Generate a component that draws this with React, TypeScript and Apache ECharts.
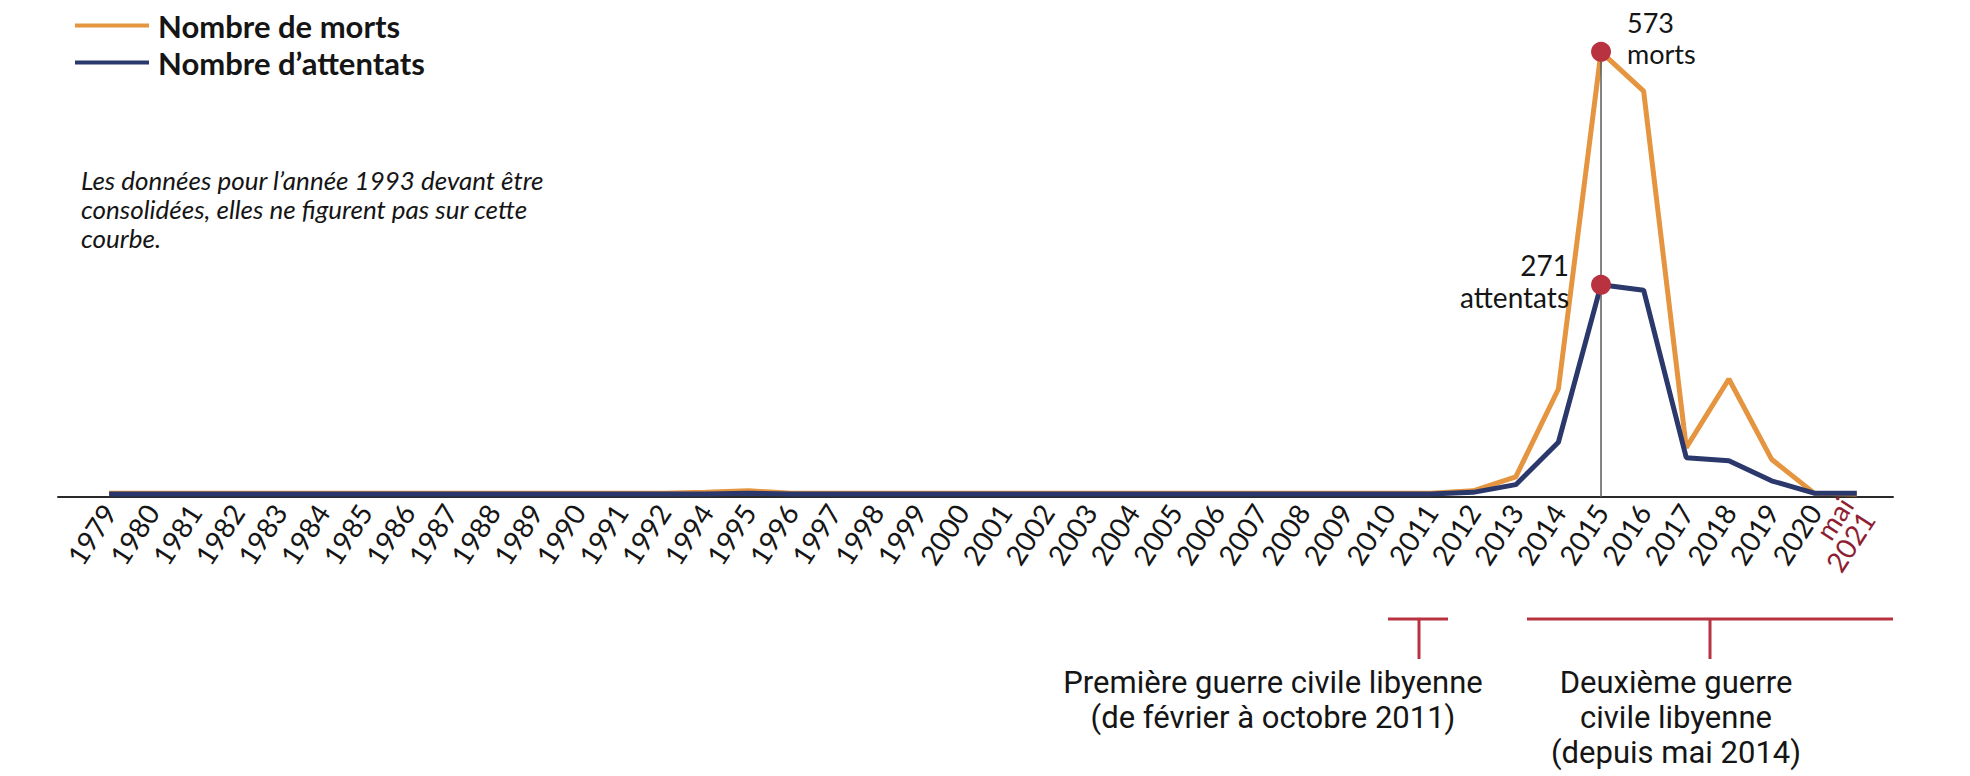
import React, { useEffect, useRef } from 'react';
import * as echarts from 'echarts';

const years = [
  '1979', '1980', '1981', '1982', '1983', '1984', '1985', '1986', '1987', '1988',
  '1989', '1990', '1991', '1992', '1994', '1995', '1996', '1997', '1998', '1999',
  '2000', '2001', '2002', '2003', '2004', '2005', '2006', '2007', '2008', '2009',
  '2010', '2011', '2012', '2013', '2014', '2015', '2016', '2017', '2018', '2019',
  '2020', 'mai\n2021',
];

const morts = [
  1, 1, 1, 1, 1, 1, 1, 1, 1, 1,
  1, 1, 1, 1, 2, 4, 1, 1, 1, 1,
  1, 1, 1, 1, 1, 1, 1, 1, 1, 1,
  1, 1, 4, 22, 136, 573, 522, 60, 149, 45,
  1, 0,
];

const attentats = [
  0, 0, 0, 0, 0, 0, 0, 0, 0, 0,
  0, 0, 0, 0, 0, 1, 0, 0, 0, 0,
  0, 0, 0, 0, 0, 0, 0, 0, 0, 0,
  0, 0, 2, 12, 67, 271, 264, 47, 43, 17,
  1, 1,
];

const seriesNames = ['Nombre de morts', 'Nombre d\u2019attentats'];
const peakYear = '2015';

const ORANGE = '#E5943F';
const NAVY = '#2B386B';
const RED = '#B8323F';
const DARKRED = '#8E1F32';

export default function App() {
  const ref = useRef<HTMLDivElement>(null);

  useEffect(() => {
    document.body.style.margin = '0';
    const chart = echarts.init(ref.current as HTMLDivElement, null, { renderer: 'svg' });
    const peak = years.indexOf(peakYear);
    const last = years.length - 1;
    const mainIdx = years.map((_, i) => i).filter((i) => i !== last);
    const font = 'Lato, "Noto Sans", sans-serif';
    const narrow = '"Liberation Sans Narrow", Roboto, sans-serif';

    const baseLabel = {
      rotate: 57,
      margin: 10,
      fontFamily: font,
      fontSize: 28,
      lineHeight: 26,
      formatter: (v: number) => years[Math.round(v)] || '',
    };

    chart.setOption({
      animation: false,
      backgroundColor: '#ffffff',
      legend: {
        orient: 'vertical',
        left: 70,
        top: 5,
        itemWidth: 74,
        itemHeight: 4,
        itemGap: 6,
        icon: 'rect',
        data: seriesNames,
        textStyle: { fontFamily: font, fontSize: 31, fontWeight: 'bold', color: '#151515', padding: [0, 0, 0, 4] },
      },
      grid: { left: 58, right: 77, top: 31, bottom: 279, containLabel: false },
      xAxis: [
        {
          type: 'value',
          position: 'bottom',
          min: -1.2,
          max: 41.85,
          axisLine: { show: true, onZero: false, lineStyle: { color: '#2a2a2a', width: 2 } },
          axisTick: { show: false },
          splitLine: { show: false },
          axisLabel: { ...baseLabel, customValues: mainIdx, color: '#151515' },
        },
        {
          type: 'value',
          position: 'bottom',
          offset: 0,
          min: -1.2,
          max: 41.85,
          axisLine: { show: false, onZero: false },
          axisTick: { show: false },
          splitLine: { show: false },
          axisLabel: { ...baseLabel, customValues: [last], color: DARKRED, showMinLabel: true, showMaxLabel: true },
        },
      ],
      yAxis: {
        type: 'value',
        min: -4,
        max: 600,
        show: false,
        splitLine: { show: false },
      },
      series: [
        {
          name: seriesNames[0],
          type: 'line',
          data: morts.map((v, i) => [i, v]),
          showSymbol: false,
          symbol: 'none',
          lineStyle: { color: ORANGE, width: 5 },
          itemStyle: { color: ORANGE },
          z: 2,
        },
        {
          name: seriesNames[1],
          type: 'line',
          data: attentats.map((v, i) => [i, v]),
          showSymbol: false,
          symbol: 'none',
          lineStyle: { color: NAVY, width: 5 },
          itemStyle: { color: NAVY },
          z: 3,
        },
        {
          name: 'repere',
          type: 'line',
          data: [[peak, -4], [peak, morts[peak]]],
          showSymbol: false,
          symbol: 'none',
          lineStyle: { color: '#5a5a5a', width: 1.5 },
          silent: true,
          z: 4,
        },
        {
          name: 'pics',
          type: 'scatter',
          symbolSize: 20,
          itemStyle: { color: RED, opacity: 1 },
          z: 5,
          data: [
            {
              value: [peak, morts[peak]],
              label: {
                show: true,
                position: 'right',
                distance: 16,
                offset: [0, -14],
                align: 'left',
                formatter: String(morts[peak]) + '\nmorts',
                fontFamily: font,
                fontSize: 27,
                lineHeight: 31,
                color: '#151515',
              },
            },
            {
              value: [peak, attentats[peak]],
              label: {
                show: true,
                position: 'left',
                distance: 22,
                offset: [0, -4],
                align: 'right',
                formatter: String(attentats[peak]) + '\nattentats',
                fontFamily: font,
                fontSize: 28,
                lineHeight: 32,
                color: '#151515',
              },
            },
          ],
        },
      ],
      graphic: [
        {
          type: 'text',
          left: 81,
          top: 165,
          style: {
            text: 'Les donn\u00e9es pour l\u2019ann\u00e9e 1993 devant \u00eatre\nconsolid\u00e9es, elles ne figurent pas sur cette\ncourbe.',
            fontFamily: font,
            fontStyle: 'italic',
            fontSize: 26,
            lineHeight: 29,
            fill: '#151515',
          },
        },
        { type: 'line', shape: { x1: 1388, y1: 619, x2: 1448, y2: 619 }, style: { stroke: RED, lineWidth: 3 } },
        { type: 'line', shape: { x1: 1419, y1: 619, x2: 1419, y2: 659 }, style: { stroke: RED, lineWidth: 3 } },
        { type: 'line', shape: { x1: 1527, y1: 619, x2: 1893, y2: 619 }, style: { stroke: RED, lineWidth: 3 } },
        { type: 'line', shape: { x1: 1710, y1: 619, x2: 1710, y2: 659 }, style: { stroke: RED, lineWidth: 3 } },
        {
          type: 'text',
          x: 1273,
          y: 665,
          style: {
            text: 'Premi\u00e8re guerre civile libyenne\n(de f\u00e9vrier \u00e0 octobre 2011)',
            fontFamily: narrow,
            fontSize: 31,
            lineHeight: 35,
            align: 'center',
            verticalAlign: 'top',
            fill: '#151515',
          },
        },
        {
          type: 'text',
          x: 1676,
          y: 665,
          style: {
            text: 'Deuxi\u00e8me guerre\ncivile libyenne\n(depuis mai 2014)',
            fontFamily: narrow,
            fontSize: 31,
            lineHeight: 35,
            align: 'center',
            verticalAlign: 'top',
            fill: '#151515',
          },
        },
      ],
    });

    return () => chart.dispose();
  }, []);

  return <div ref={ref} style={{ width: 1970, height: 776 }} />;
}
